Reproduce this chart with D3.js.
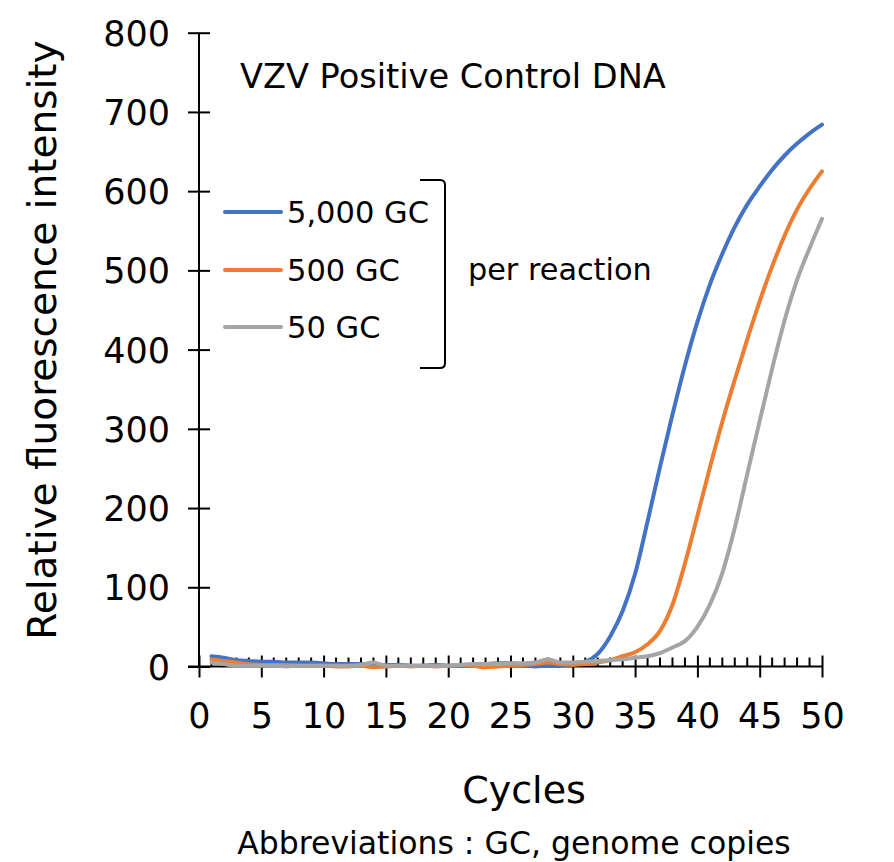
<!DOCTYPE html>
<html>
<head>
<meta charset="utf-8">
<script src="https://cdn.jsdelivr.net/npm/d3@7"></script>
<style>
  html, body { margin: 0; padding: 0; background: #fff; }
  text { font-family: "DejaVu Sans", Verdana, sans-serif; fill: #000; }
</style>
</head>
<body>
<svg id="chart" width="894" height="862"></svg>
<script>
const cycles = d3.range(1, 51);
const seriesNames = ["5,000 GC", "500 GC", "50 GC"];
const seriesColors = ["#4472C4", "#ED7D31", "#A5A5A5"];
const gc5000 = [13,11,8,7,6,6,5,5,5,4, 3,3,3,2,2,2,1,1,2,1, 1,2,3,4,4,2,0,1,1,3,
  6,16,38,70,117,183,252,318,380,435, 482,521,555,583,606,627,645,660,673,684];
const gc500 = [9,7,5,3,2,2,2,1,1,1, 0,0,1,-1,0,1,0,1,0,1, 2,1,-1,0,1,2,3,5,3,2,
  3,5,8,13,18,28,45,78,130,190, 251,309,362,413,461,505,544,577,603,625];
const gc50 = [5,3,1,1,1,1,0,1,1,1, 1,1,2,5,1,1,1,1,1,1, 2,3,3,3,4,4,5,9,5,5,
  6,7,8,9,11,13,17,24,32,50, 78,118,175,243,310,376,437,488,528,565];
const yTicks = [0,100,200,300,400,500,600,700,800];
const xTicks = [0,5,10,15,20,25,30,35,40,45,50];
const titleText = "VZV Positive Control DNA";
const yTitle = "Relative fluorescence intensity";
const xTitle = "Cycles";
const bracketLabel = "per reaction";
const footnote = "Abbreviations : GC, genome copies";

const svg = d3.select("#chart");
const x = d3.scaleLinear().domain([0, 50]).range([199, 822]);
const y = d3.scaleLinear().domain([0, 800]).range([666.5, 32.7]);

// axes
const gy = svg.append("g").attr("transform", `translate(${x(0)},0)`)
  .call(d3.axisLeft(y).tickValues(yTicks).tickSize(0).tickPadding(0));
gy.select(".domain").remove();
gy.selectAll(".tick line").attr("x1", -11).attr("x2", 11).attr("stroke", "#000").attr("stroke-width", 2);
gy.selectAll(".tick text").attr("x", -29).attr("dy", "0.36em")
  .style("font-size", "35px").style("font-family", "DejaVu Sans");

const gx = svg.append("g").attr("transform", `translate(0,${y(0)})`)
  .call(d3.axisBottom(x).tickValues(xTicks).tickSize(0).tickPadding(0));
gx.select(".domain").remove();
gx.selectAll(".tick line").attr("y1", -11).attr("y2", 11).attr("stroke", "#000").attr("stroke-width", 2);
gx.selectAll(".tick text").attr("y", 37).attr("dy", "0.71em")
  .style("font-size", "35px").style("font-family", "DejaVu Sans");

// minor x ticks
svg.append("g").selectAll("line")
  .data(cycles.filter(c => c % 5 !== 0))
  .join("line")
  .attr("x1", d => x(d)).attr("x2", d => x(d))
  .attr("y1", y(0) - 9).attr("y2", y(0))
  .attr("stroke", "#000").attr("stroke-width", 2);

// axis lines
svg.append("line").attr("x1", x(0)).attr("x2", x(0)).attr("y1", y(800)).attr("y2", y(0))
  .attr("stroke", "#000").attr("stroke-width", 2);
svg.append("line").attr("x1", x(0) - 11).attr("x2", x(50)).attr("y1", y(0)).attr("y2", y(0))
  .attr("stroke", "#000").attr("stroke-width", 2);

// lines
const allSeries = [gc5000, gc500, gc50];
const line = d3.line().curve(d3.curveMonotoneX).x((d, i) => x(cycles[i])).y(d => y(d));
svg.append("g").selectAll("path")
  .data(allSeries)
  .join("path")
  .attr("d", d => line(d))
  .attr("fill", "none")
  .attr("stroke", (d, i) => seriesColors[i])
  .attr("stroke-width", 4)
  .attr("stroke-linejoin", "round")
  .attr("stroke-linecap", "round");

// legend
const legY = [212, 270, 327];
const leg = svg.append("g");
seriesNames.forEach((name, i) => {
  leg.append("line").attr("x1", 225).attr("x2", 281).attr("y1", legY[i]).attr("y2", legY[i])
    .attr("stroke", seriesColors[i]).attr("stroke-width", 4).attr("stroke-linecap", "round");
  leg.append("text").attr("x", 287).attr("y", legY[i]).attr("dy", "0.36em")
    .style("font-size", "30.5px").text(name);
});

// bracket
svg.append("path")
  .attr("d", "M420,180 L440,180 Q445,180 445,185 L445,363 Q445,368 440,368 L420,368")
  .attr("fill", "none").attr("stroke", "#000").attr("stroke-width", 2);
svg.append("text").attr("x", 468).attr("y", 269).attr("dy", "0.36em")
  .style("font-size", "30.3px").text(bracketLabel);

// title
svg.append("text").attr("x", 240).attr("y", 76).attr("dy", "0.36em")
  .style("font-size", "33.6px").text(titleText);

// axis titles
svg.append("text").attr("x", 524).attr("y", 789).attr("dy", "0.36em")
  .attr("text-anchor", "middle").style("font-size", "38px").text(xTitle);
svg.append("text").attr("transform", "translate(42,340) rotate(-90)")
  .attr("text-anchor", "middle").attr("dy", "0.36em")
  .style("font-size", "39px").text(yTitle);

// footnote
svg.append("text").attr("x", 514).attr("y", 843).attr("dy", "0.36em")
  .attr("text-anchor", "middle").style("font-size", "31.5px").text(footnote);
</script>
</body>
</html>
